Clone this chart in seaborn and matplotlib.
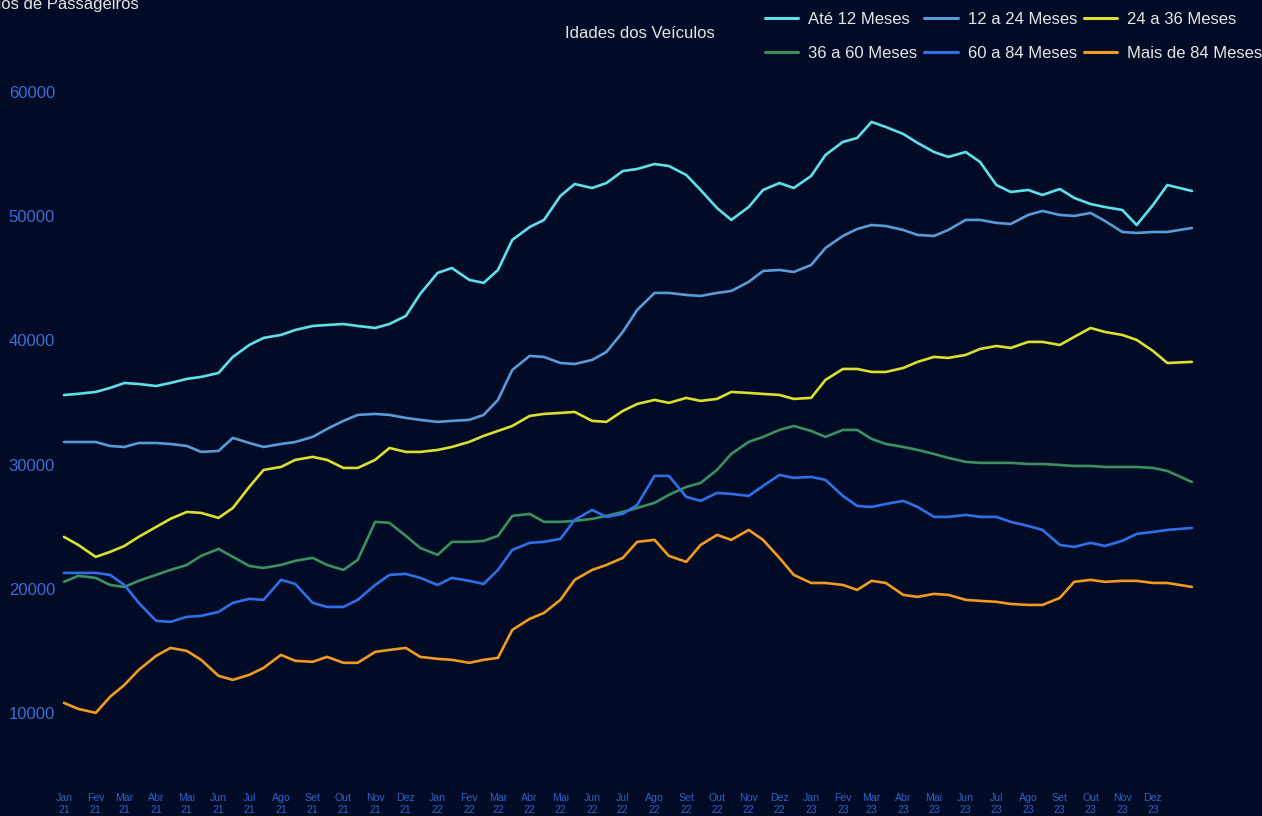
import pandas as pd
import matplotlib
matplotlib.use("Agg")
import matplotlib.pyplot as plt
import seaborn as sns

# --- cores e estilo ---
BG = "#020b26"
TICK_BLUE = "#3b6ed6"
TXT = "#e6e6e6"

# --- datas (quinzenais) ---
dates = list(pd.date_range("2021-01-01", "2023-12-15", freq="SMS")) + [pd.Timestamp("2024-01-08")]

# --- séries ---
ate_12 = [35600, 35700, 35850, 36170, 36570, 36490, 36330, 36570, 36900, 37060,
          37380, 38670, 39630, 40200, 40440, 40840, 41160, 41240, 41320, 41160,
          41000, 41320, 41970, 43740, 45430, 45830, 44870, 44630, 45670, 48090,
          49130, 49700, 51630, 52590, 52270, 52670, 53640, 53800, 54200, 54040,
          53320, 52110, 50660, 49700, 50740, 52110, 52670, 52270, 53240, 54930,
          55980, 56300, 57590, 57180, 56620, 55900, 55170, 54770, 55170, 54370,
          52510, 51950, 52110, 51710, 52190, 51470, 50980, 50740, 50500, 49290,
          50900, 52510, 52030]
m12_24 = [31820, 31820, 31820, 31500, 31420, 31740, 31740, 31660, 31500, 31020,
          31100, 32150, 31740, 31420, 31660, 31820, 32230, 32870, 33520, 34000,
          34080, 34000, 33760, 33600, 33440, 33520, 33600, 34000, 35210, 37620,
          38750, 38670, 38180, 38100, 38430, 39070, 40680, 42450, 43820, 43820,
          43660, 43580, 43820, 43980, 44710, 45590, 45670, 45510, 46070, 47440,
          48410, 48970, 49290, 49210, 48890, 48490, 48410, 48890, 49700, 49700,
          49460, 49370, 50100, 50420, 50100, 50020, 50260, 49620, 48730, 48650,
          48730, 48730, 49050]
m24_36 = [24180, 23530, 22570, 22970, 23450, 24180, 24980, 25630, 26190, 26110,
          25710, 26510, 28200, 29570, 29810, 30380, 30620, 30380, 29730, 29730,
          30380, 31340, 31020, 31020, 31180, 31420, 31830, 32310, 32710, 33110,
          33920, 34080, 34160, 34240, 33520, 33440, 34320, 34880, 35210, 34970,
          35370, 35130, 35290, 35850, 35770, 35690, 35610, 35290, 35370, 36820,
          37700, 37700, 37460, 37460, 37780, 38270, 38670, 38590, 38830, 39310,
          39550, 39390, 39880, 39880, 39630, 40280, 41000, 40680, 40440, 40040,
          39150, 38180, 38270]
m36_60 = [20560, 21040, 20880, 20310, 20150, 20640, 21120, 21520, 21920, 22650,
          23210, 22570, 21840, 21680, 21920, 22250, 22490, 21920, 21520, 22330,
          25390, 25310, 24260, 23290, 22730, 23780, 23780, 23860, 24260, 25870,
          26030, 25390, 25390, 25470, 25630, 25870, 26190, 26510, 26920, 27560,
          28200, 28520, 29570, 30860, 31830, 32230, 32790, 33110, 32710, 32230,
          32790, 32790, 32070, 31660, 31420, 31180, 30860, 30540, 30220, 30140,
          30140, 30140, 30050, 30050, 29970, 29890, 29890, 29810, 29810, 29810,
          29730, 29490, 28600]
m60_84 = [21280, 21280, 21280, 21120, 20310, 18870, 17420, 17340, 17740, 17820,
          18140, 18870, 19190, 19110, 20720, 20390, 18870, 18540, 18540, 19110,
          20310, 21120, 21200, 20880, 20310, 20880, 20640, 20390, 21520, 23130,
          23700, 23780, 24020, 25550, 26350, 25790, 26030, 26750, 29090, 29090,
          27400, 27080, 27720, 27640, 27480, 28280, 29170, 28930, 29010, 28770,
          27480, 26670, 26590, 26830, 27080, 26590, 25790, 25790, 25950, 25790,
          25790, 25390, 25060, 24740, 23530, 23370, 23700, 23450, 23860, 24420,
          24580, 24740, 24900]
mais_84 = [10810, 10330, 10010, 11300, 12260, 13470, 14600, 15240, 15000, 14280,
           12990, 12670, 13070, 13630, 14680, 14200, 14120, 14520, 14040, 14040,
           14920, 15080, 15240, 14520, 14360, 14280, 14040, 14280, 14440, 16690,
           17580, 18060, 19110, 20720, 21520, 21920, 22490, 23780, 23940, 22650,
           22170, 23530, 24340, 23940, 24740, 23940, 22490, 21120, 20470, 20470,
           20310, 19910, 20640, 20470, 19510, 19350, 19590, 19510, 19110, 19030,
           18950, 18780, 18700, 18700, 19270, 20560, 20720, 20560, 20640, 20640,
           20470, 20470, 20150]

series = {
    "Até 12 Meses": ate_12,
    "12 a 24 Meses": m12_24,
    "24 a 36 Meses": m24_36,
    "36 a 60 Meses": m36_60,
    "60 a 84 Meses": m60_84,
    "Mais de 84 Meses": mais_84,
}
palette = {
    "Até 12 Meses": "#5fe0e8",
    "12 a 24 Meses": "#5a9ad6",
    "24 a 36 Meses": "#dbe02e",
    "36 a 60 Meses": "#3c8f5e",
    "60 a 84 Meses": "#2f6fe6",
    "Mais de 84 Meses": "#f19a22",
}
meses = ["Jan", "Fev", "Mar", "Abr", "Mai", "Jun", "Jul", "Ago", "Set", "Out", "Nov", "Dez"]

df = pd.concat(
    [pd.DataFrame({"data": dates, "qtd": v, "idade": k}) for k, v in series.items()],
    ignore_index=True,
)

sns.set_style("dark", rc={"axes.facecolor": BG, "figure.facecolor": BG})
plt.rcParams["font.family"] = ["Liberation Sans", "DejaVu Sans"]

W, H = 1262, 816
fig = plt.figure(figsize=(W / 100, H / 100), dpi=100, facecolor=BG)
ax = fig.add_axes([60 / W, 31 / H, 1202 / W, 785 / H])
ax.set_facecolor(BG)

sns.lineplot(data=df, x="data", y="qtd", hue="idade", palette=palette,
             linewidth=1.9, ax=ax)
for ln in ax.get_lines():
    ln.set_solid_joinstyle("round")

# eixos
t0 = pd.Timestamp("2021-01-01")
ax.set_xlim(t0 - pd.Timedelta(days=3.9), t0 + pd.Timedelta(days=1170.5))
ax.set_ylim(4203, 67407)

month_ticks = pd.date_range("2021-01-01", "2023-12-01", freq="MS")
ax.set_xticks(month_ticks)
ax.set_xticklabels([f"{meses[d.month - 1]}\n{d.year % 100}" for d in month_ticks],
                   fontsize=7.6, color="#2f62c8", linespacing=1.15)
ax.tick_params(axis="x", direction="out", length=3, width=1, color="#3f72d8", pad=3)

ax.set_yticks([10000, 20000, 30000, 40000, 50000, 60000])
ax.set_yticklabels(["10000", "20000", "30000", "40000", "50000", "60000"],
                   fontsize=12, color=TICK_BLUE)
ax.tick_params(axis="y", length=0, pad=3.6)

ax.set_xlabel("")
ax.set_ylabel("")
ax.grid(False)
for s in ax.spines.values():
    s.set_visible(False)

# legenda (preenchida por linha, 3 colunas)
handles, labels = ax.get_legend_handles_labels()
order = [0, 3, 1, 4, 2, 5]
handles = [handles[i] for i in order]
labels = [labels[i] for i in order]
ax.legend(handles, labels, loc="upper right", bbox_to_anchor=(1.0, 1 - 12 / H),
          bbox_transform=fig.transFigure, ncol=3, frameon=False,
          fontsize=12, handlelength=2.0, handletextpad=0.6,
          columnspacing=0.4, labelspacing=1.15, borderpad=0, borderaxespad=0)
for t in ax.get_legend().get_texts():
    t.set_color(TXT)
for h in ax.get_legend().get_lines():
    h.set_linewidth(2.2)

fig.text(565 / W, 1 - 33 / H, "Idades dos Veículos", ha="left", va="center",
         fontsize=12, color=TXT)
fig.text(139 / W, 1 - 9 / H, "Emplacamentos de Veículos de Passageiros",
         ha="right", va="baseline", fontsize=12, color=TXT)

fig.savefig("out.png", dpi=100, facecolor=BG)
